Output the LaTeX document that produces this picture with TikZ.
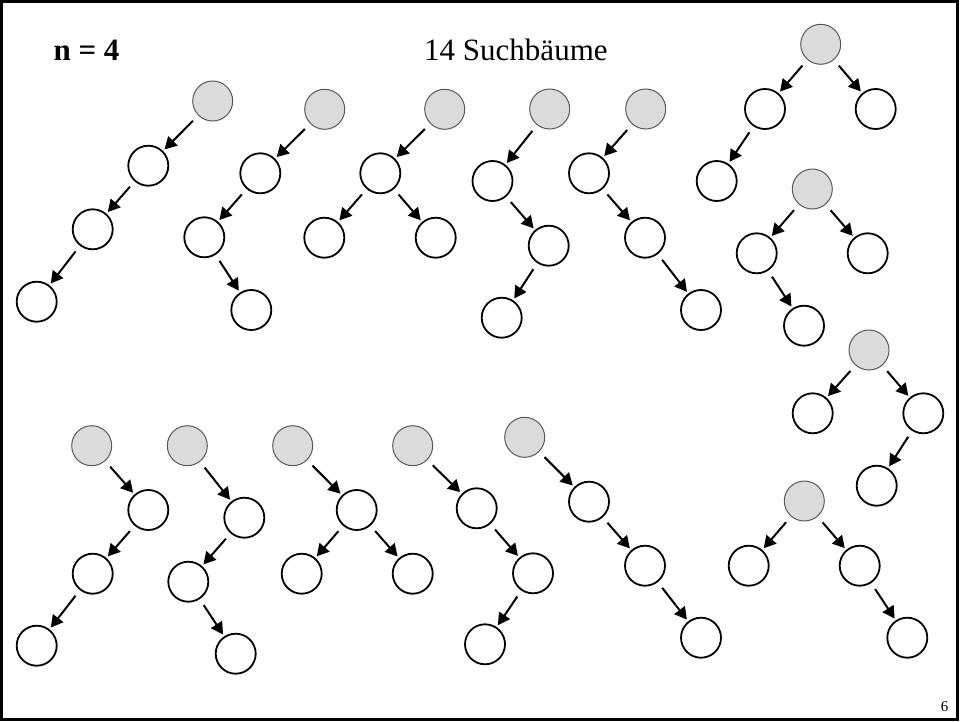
\documentclass[tikz,border=0pt]{standalone}
\usepackage{fontspec}
\setmainfont{Liberation Serif}
\usetikzlibrary{arrows.meta}
\begin{document}
\begin{tikzpicture}[x=1pt,y=-1pt,
  root/.style={circle,minimum size=40pt,inner sep=0pt,outer sep=0pt,
    draw=black!65,fill=black!14,line width=1pt},
  leaf/.style={circle,minimum size=40pt,inner sep=0pt,outer sep=0pt,
    draw=black,line width=1.8pt},
  edge/.style={line width=2pt,-{Triangle[length=12pt,width=13pt]},
    shorten <=8pt,shorten >=3pt}]
\useasboundingbox (0,0) rectangle (960,722);
\draw[line width=3pt] (1.5,1.5) rectangle (957.5,719.5);

\node[anchor=base west,font=\fontsize{31}{36}\selectfont\bfseries] (title) at (50,61) {n = 4};
\node[anchor=base west,font=\fontsize{31}{36}\selectfont] (count) at (420.7,61) {14 Suchbäume};
\node[anchor=base east,font=\fontsize{15}{18}\selectfont] (page) at (952,711.5) {6};

% tree 1: left chain
\node[root] (a1) at (212.7,101) {};
\node[leaf] (a2) at (148.3,165.7) {};
\node[leaf] (a3) at (92.7,229.3) {};
\node[leaf] (a4) at (36.7,301.7) {};
\draw[edge] (a1) -- (a2); \draw[edge] (a2) -- (a3); \draw[edge] (a3) -- (a4);

% tree 2
\node[root] (b1) at (324.7,109.3) {};
\node[leaf] (b2) at (260.3,173.3) {};
\node[leaf] (b3) at (204.3,237.3) {};
\node[leaf] (b4) at (251.3,310) {};
\draw[edge] (b1) -- (b2); \draw[edge] (b2) -- (b3); \draw[edge] (b3) -- (b4);

% tree 3
\node[root] (c1) at (444.7,109.3) {};
\node[leaf] (c2) at (380.3,173.3) {};
\node[leaf] (c3) at (324.3,237.7) {};
\node[leaf] (c4) at (435.7,237.7) {};
\draw[edge] (c1) -- (c2); \draw[edge] (c2) -- (c3); \draw[edge] (c2) -- (c4);

% tree 4
\node[root] (d1) at (549.7,109) {};
\node[leaf] (d2) at (492.5,181) {};
\node[leaf] (d3) at (548.7,245.7) {};
\node[leaf] (d4) at (501.7,317.7) {};
\draw[edge] (d1) -- (d2); \draw[edge] (d2) -- (d3); \draw[edge] (d3) -- (d4);

% tree 5
\node[root] (e1) at (645.7,109) {};
\node[leaf] (e2) at (589,173.3) {};
\node[leaf] (e3) at (645,237.7) {};
\node[leaf] (e4) at (701,310) {};
\draw[edge] (e1) -- (e2); \draw[edge] (e2) -- (e3); \draw[edge] (e3) -- (e4);

% tree 6
\node[root] (f1) at (820.7,44.3) {};
\node[leaf] (f2) at (765,109) {};
\node[leaf] (f3) at (875.7,109) {};
\node[leaf] (f4) at (716.7,181) {};
\draw[edge] (f1) -- (f2); \draw[edge] (f1) -- (f3); \draw[edge] (f2) -- (f4);

% tree 7
\node[root] (g1) at (812.3,189) {};
\node[leaf] (g2) at (756.7,253.3) {};
\node[leaf] (g3) at (867.7,253.3) {};
\node[leaf] (g4) at (804,325.7) {};
\draw[edge] (g1) -- (g2); \draw[edge] (g1) -- (g3); \draw[edge] (g2) -- (g4);

% tree 8
\node[root] (h1) at (869,350) {};
\node[leaf] (h2) at (812.7,413.3) {};
\node[leaf] (h3) at (923.3,413.3) {};
\node[leaf] (h4) at (876.7,485.7) {};
\draw[edge] (h1) -- (h2); \draw[edge] (h1) -- (h3); \draw[edge] (h3) -- (h4);

% tree 9
\node[root] (i1) at (91.7,445.7) {};
\node[leaf] (i2) at (148.3,510) {};
\node[leaf] (i3) at (92.7,573.7) {};
\node[leaf] (i4) at (36.7,645.7) {};
\draw[edge] (i1) -- (i2); \draw[edge] (i2) -- (i3); \draw[edge] (i3) -- (i4);

% tree 10
\node[root] (j1) at (187.3,445.7) {};
\node[leaf] (j2) at (244.3,517.7) {};
\node[leaf] (j3) at (188.3,581.7) {};
\node[leaf] (j4) at (235.7,653.7) {};
\draw[edge] (j1) -- (j2); \draw[edge] (j2) -- (j3); \draw[edge] (j3) -- (j4);

% tree 11
\node[root] (k1) at (292.7,445.7) {};
\node[leaf] (k2) at (356.7,510) {};
\node[leaf] (k3) at (301.7,573.7) {};
\node[leaf] (k4) at (412.7,573.7) {};
\draw[edge] (k1) -- (k2); \draw[edge] (k2) -- (k3); \draw[edge] (k2) -- (k4);

% tree 12
\node[root] (l1) at (412.7,445.7) {};
\node[leaf] (l2) at (476.7,508.3) {};
\node[leaf] (l3) at (533,573.3) {};
\node[leaf] (l4) at (485,644.3) {};
\draw[edge] (l1) -- (l2); \draw[edge] (l2) -- (l3); \draw[edge] (l3) -- (l4);

% tree 13: right chain
\node[root] (m1) at (524.7,437.3) {};
\node[leaf] (m2) at (589,501.7) {};
\node[leaf] (m3) at (645,565.7) {};
\node[leaf] (m4) at (701,637.7) {};
\draw[edge] (m1) -- (m2); \draw[edge] (m2) -- (m3); \draw[edge] (m3) -- (m4);

% tree 14
\node[root] (n1) at (804.3,501) {};
\node[leaf] (n2) at (748.7,565.7) {};
\node[leaf] (n3) at (859.7,565.7) {};
\node[leaf] (n4) at (907.3,637.7) {};
\draw[edge] (n1) -- (n2); \draw[edge] (n1) -- (n3); \draw[edge] (n3) -- (n4);
\end{tikzpicture}
\end{document}
